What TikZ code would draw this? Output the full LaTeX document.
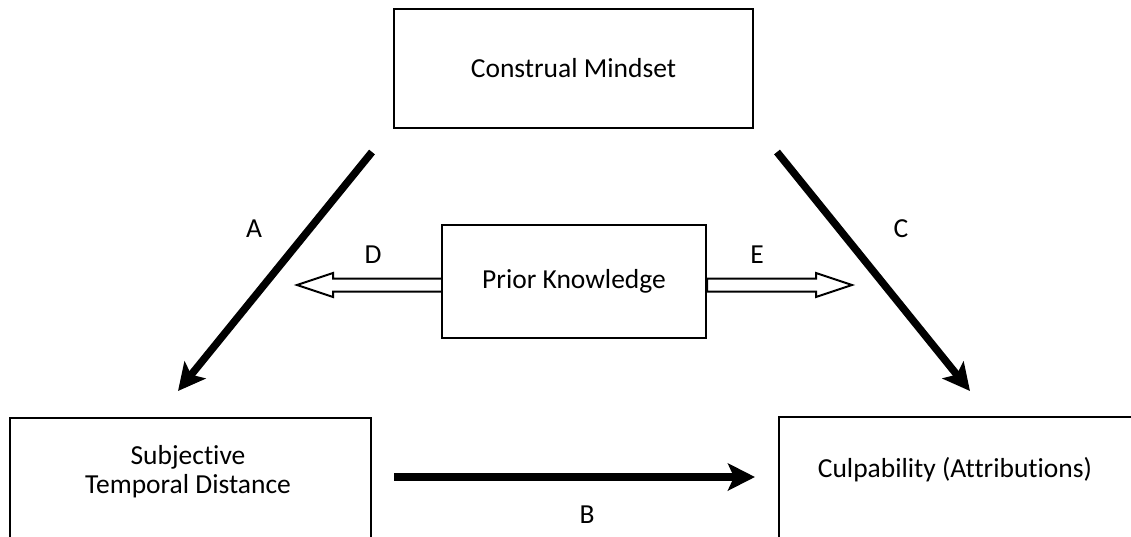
\documentclass[tikz,border=0pt]{standalone}
\usepackage{fontspec}
\setmainfont{Carlito}[RawFeature={-liga}]
\usetikzlibrary{arrows.meta,calc}
\begin{document}
\begin{tikzpicture}[x=1pt,y=-1pt,
  every node/.style={font=\fontsize{27.5}{29}\selectfont},
  box/.style={draw, line width=2.2pt, rectangle, inner sep=0pt},
  lbl/.style={inner sep=1pt},
  thick arrow/.style={line width=7.5pt, -{Stealth[length=27pt,width=27pt,inset=6pt]}},
  hollow/.style={draw, line width=2pt, fill=white, line join=miter}
]
\useasboundingbox (0,0) rectangle (1131,536);
\clip (0,0) rectangle (1131,536);

% boxes
\node[box, minimum width=359pt, minimum height=119pt] (cm) at (573.5,68.5) {Construal Mindset};
\node[box, minimum width=264pt, minimum height=113pt] (pk) at (574,281.5) {Prior Knowledge};
\node[box, minimum width=361pt, minimum height=160pt, anchor=north] (std) at (190.5,417) {};
\node[align=center] (stdtext) at (188,472) {Subjective\\Temporal Distance};
\node[box, minimum width=400pt, minimum height=160pt, anchor=north west] (cul) at (778,416) {};
\node (cultext) at (955,470) {Culpability (Attributions)};

% coordinates for arrow ends
\coordinate (a0) at (372,152);
\coordinate (a1) at (178,391);
\coordinate (c0) at (777,152);
\coordinate (c1) at (970,391);
\coordinate (b0) at (394,477);
\coordinate (b1) at (755,477);
\coordinate (dtip) at (297,285);
\coordinate (etip) at (852,285);

% solid arrows
\draw[thick arrow] (a0) -- (a1);
\draw[thick arrow] (c0) -- (c1);
\draw[thick arrow] (b0) -- (b1);

% hollow arrows
\path[hollow] (pk.west |- dtip) ++(0,-6.5) -- ($(dtip)+(36,-6.5)$) -- ($(dtip)+(36,-12)$) -- (dtip)
  -- ($(dtip)+(36,12)$) -- ($(dtip)+(36,6.5)$) -- ($(pk.west |- dtip)+(0,6.5)$);
\path[hollow] (pk.east |- etip) ++(0,-6.5) -- ($(etip)+(-36,-6.5)$) -- ($(etip)+(-36,-12)$) -- (etip)
  -- ($(etip)+(-36,12)$) -- ($(etip)+(-36,6.5)$) -- ($(pk.east |- etip)+(0,6.5)$) -- cycle;

% labels
\node[lbl] (la) at (254,229) {A};
\node[lbl] (lc) at (901,229) {C};
\node[lbl] (ld) at (373,255) {D};
\node[lbl] (le) at (757,255) {E};
\node[lbl] (lb) at (587,515) {B};
\end{tikzpicture}
\end{document}
